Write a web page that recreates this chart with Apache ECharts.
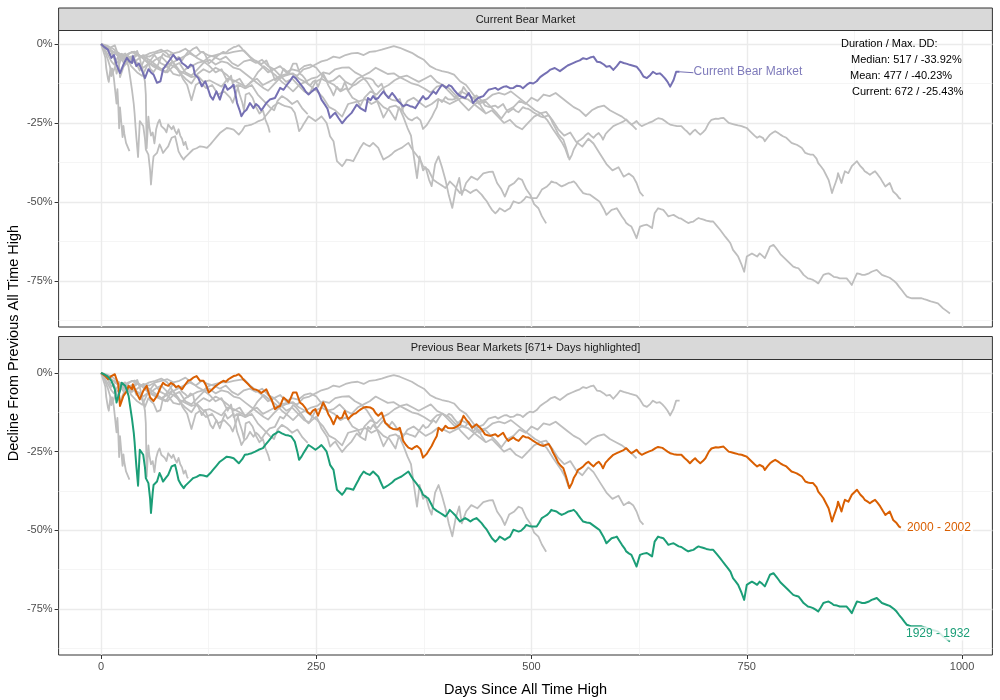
<!DOCTYPE html>
<html>
<head>
<meta charset="utf-8">
<script src="https://cdn.jsdelivr.net/npm/echarts@6/dist/echarts.min.js"></script>
<style>html,body{margin:0;padding:0;background:#fff}#c{width:1000px;height:700px}</style>
</head>
<body>
<div id="c"></div>
<script>
// ---- data: [days since all-time high, decline %] ----
const bearCurrent = [[0,0],[4,-1],[8,-1.8],[12,-4.4],[15,-3.5],[18,-6.5],[22,-9.2],[26,-6.5],[30,-4.4],[33,-5.5],[36,-6],[37,-3.9],[41,-7],[44,-6.2],[47,-8],[51,-10.8],[55,-8],[58,-9],[61,-9.7],[65,-12.3],[69,-11.8],[72,-8],[76,-6.5],[80,-5],[84,-3.4],[88,-5],[91,-4.5],[94,-6],[98,-6.8],[101,-7.6],[104,-6.5],[107,-7],[109,-9.7],[113,-10.8],[117,-13.4],[121,-11.8],[124,-14],[127,-16.5],[130,-17.6],[134,-15],[138,-17.6],[141,-15],[144,-12.9],[147,-14.5],[150,-13.9],[154,-12.9],[158,-18.7],[161,-21],[163,-22.9],[166,-21.5],[169,-20.8],[173,-18.7],[177,-20.3],[180,-19],[183,-19.7],[186,-21],[188,-20.3],[192,-18.7],[196,-17.6],[202,-17.1],[205,-15.5],[208,-13.9],[212,-14.5],[216,-12.9],[220,-11.5],[223,-10.2],[226,-10.8],[229,-11.8],[235,-13.9],[238,-15.2],[241,-16],[245,-15],[250,-13.9],[253,-15.5],[256,-17.6],[260,-19.2],[263,-20.5],[266,-23.4],[269,-22.5],[272,-21.8],[276,-23.5],[280,-25.1],[282,-25.4],[285,-23.4],[288,-22.6],[291,-21.8],[294,-20.5],[297,-19.2],[301,-20.3],[304,-20.8],[307,-21.3],[310,-17.1],[313,-17.8],[316,-16.5],[319,-17.5],[322,-17.1],[325,-16],[328,-15],[331,-16.2],[334,-17.1],[338,-15.5],[341,-16.5],[345,-18.1],[348,-18.8],[351,-19.7],[355,-19.2],[359,-19.7],[362,-19.9],[365,-20.3],[370,-18.1],[374,-16.5],[377,-17.5],[380,-17.1],[383,-16],[386,-15],[389,-15.8],[392,-14.5],[396,-12.9],[401,-13.9],[404,-13],[407,-13.4],[410,-14.5],[413,-15.5],[417,-16.5],[420,-16.8],[423,-17.1],[427,-15.5],[430,-17],[432,-18.7],[435,-17.8],[438,-17.1],[441,-16.8],[444,-16.5],[447,-15.5],[450,-14.5],[454,-14.2],[458,-13.9],[461,-14.5],[465,-13.9],[468,-13.5],[471,-13.4],[475,-14],[479,-13.9],[483,-13.2],[487,-13.4],[490,-14],[492,-13.4],[495,-12.8],[498,-12.3],[502,-12.5],[506,-11.8],[510,-10.5],[514,-9.7],[518,-9],[522,-8.1],[527,-7.6],[533,-8.6],[537,-7.8],[542,-6.8],[547,-6.2],[552,-5.6],[556,-5.2],[560,-4.5],[564,-4.8],[568,-4.3],[572,-4],[576,-5.6],[580,-5.8],[584,-6.5],[587,-7.2],[591,-7],[595,-8.2],[599,-7],[603,-5.6],[607,-6],[611,-6.3],[614,-6.6],[618,-6.9],[622,-7.2],[626,-8.5],[630,-10.3],[634,-10.8],[638,-9.8],[641,-8.8],[645,-9.5],[649,-9.3],[652,-10],[655,-10.9],[658,-12],[661,-13.5],[665,-11.4],[668,-8.8],[672,-8.8]];

const bear2000 = [[0,0],[5,-1],[8,-2],[12,-1],[16,-0.4],[20,-3.6],[22,-10.5],[26,-7.3],[30,-5.7],[32,-4.1],[36,-5.2],[37,-3.6],[41,-6.2],[45,-8.4],[49,-5.7],[53,-4.1],[57,-7.8],[61,-8.9],[65,-7.3],[69,-4.7],[72,-3.1],[75,-3.8],[78,-4.1],[81,-3.2],[84,-3.6],[87,-4.5],[90,-4.1],[94,-5.2],[98,-3.6],[101,-2.5],[104,-2.2],[107,-1.5],[111,-1],[115,-2.5],[119,-2.5],[122,-4],[125,-6.2],[128,-5.5],[130,-5.2],[133,-4.2],[136,-3.6],[139,-3],[142,-2.5],[145,-2.8],[148,-2],[151,-1.5],[154,-1],[157,-0.8],[160,-0.4],[163,-1.2],[165,-2],[168,-2.8],[171,-3.6],[174,-4.5],[177,-5.2],[180,-5.3],[183,-5.7],[186,-6.4],[188,-6.2],[192,-5.2],[195,-7],[198,-8.4],[202,-11.5],[205,-10.8],[208,-10.5],[212,-7.8],[215,-8.5],[218,-9.4],[221,-7.5],[223,-6.2],[227,-6.2],[231,-9.4],[234,-10],[237,-11],[240,-12.5],[243,-13.1],[246,-12],[249,-11.5],[252,-13.6],[255,-11.5],[258,-9.4],[261,-11],[264,-13.1],[267,-14.5],[270,-16.3],[274,-13.6],[277,-14.5],[280,-14.2],[283,-12.1],[287,-14.7],[290,-13.8],[293,-13.1],[296,-12.8],[299,-12.1],[302,-11.5],[305,-11],[308,-10.8],[310,-10.5],[313,-11],[316,-11.5],[319,-12.8],[322,-13.6],[326,-12.6],[330,-15.8],[333,-16.5],[336,-17.4],[339,-17.8],[341,-18.4],[344,-18],[347,-17.4],[349,-19.5],[351,-21.6],[354,-22.8],[357,-23.7],[361,-24.2],[364,-23.6],[367,-23.2],[371,-24.2],[374,-26.9],[378,-25.8],[381,-24.5],[384,-23.2],[387,-21.5],[390,-20],[392,-17.4],[396,-18.4],[400,-16.8],[403,-17.5],[405,-17.9],[408,-17.6],[411,-17.4],[414,-16.9],[417,-16.3],[421,-13.6],[424,-14.8],[427,-15.8],[431,-17.4],[433,-16.8],[436,-16.3],[439,-17.1],[442,-17.9],[446,-19.5],[449,-19.8],[452,-20],[455,-19.7],[458,-19.5],[461,-20.2],[463,-20.5],[467,-19],[470,-20.5],[473,-21.6],[476,-21],[479,-20.5],[482,-21.2],[485,-21.6],[490,-20],[493,-20.4],[496,-20.5],[499,-21],[502,-21.6],[505,-22.1],[508,-22.6],[511,-23],[514,-23.2],[517,-22.8],[520,-22.6],[523,-24],[525,-25.3],[528,-26.8],[531,-28.5],[534,-29.5],[537,-30.3],[540,-32.8],[544,-36.6],[547,-35],[549,-33.4],[552,-32],[554,-30.8],[557,-30.3],[560,-29.7],[563,-28.8],[566,-28.2],[569,-29],[572,-29.7],[575,-28.8],[578,-28.2],[581,-29.2],[583,-30.3],[586,-28.5],[589,-27.6],[592,-26.8],[595,-26],[599,-25.5],[603,-25],[607,-24.5],[610,-23.9],[613,-24.8],[616,-25.5],[619,-25],[622,-24.4],[625,-25.4],[628,-26],[632,-25.5],[636,-25],[640,-24.6],[644,-23.9],[647,-23.5],[649,-23.1],[652,-23.8],[655,-24.4],[658,-25],[661,-25.5],[665,-25.8],[669,-26],[674,-26],[678,-27.1],[681,-27.8],[684,-28.7],[687,-27.8],[690,-27.1],[693,-28],[696,-28.7],[699,-28],[702,-27.1],[706,-25],[709,-24],[711,-23.4],[714,-23.6],[717,-23.7],[720,-23.5],[723,-23.4],[726,-24.2],[729,-25],[732,-25.2],[736,-25.5],[740,-25.8],[744,-26],[747,-26.3],[750,-26.6],[753,-27.4],[756,-28.2],[759,-29],[762,-29.7],[765,-29.2],[767,-28.7],[769,-29.8],[771,-30.8],[774,-29.7],[777,-28.7],[780,-28.1],[783,-27.6],[786,-28.1],[789,-28.7],[792,-29.2],[796,-29.7],[799,-30.5],[802,-31.3],[805,-31.6],[808,-31.9],[811,-32.4],[814,-32.9],[816,-33.7],[818,-34.5],[821,-34.8],[824,-35],[827,-35],[829,-35],[831,-36.3],[833,-37.7],[836,-38.7],[839,-39.8],[842,-41.4],[845,-43],[847,-45],[849,-47.2],[851,-45.5],[853,-44],[855,-42.4],[856,-40.9],[858,-42.4],[860,-44],[862,-42],[864,-40.3],[866,-40.6],[868,-40.9],[870,-39.8],[872,-38.7],[875,-37.9],[878,-37.1],[880,-37.9],[882,-38.7],[885,-39.5],[887,-40.3],[890,-40.8],[893,-41.4],[896,-40.8],[899,-40.3],[902,-41.3],[905,-42.4],[908,-43.8],[911,-45.1],[913,-44.5],[916,-44],[918,-45.3],[920,-46.7],[922,-47.2],[924,-47.7],[927,-48.8],[929,-49.1]];

const bear1929 = [[0,0],[4,-0.5],[7,-1],[10,-1.8],[12,-2.5],[14,-3.8],[16,-5.2],[18,-9.4],[20,-7.5],[22,-5.7],[24,-3.1],[26,-3.6],[28,-4.1],[30,-5.5],[32,-7.3],[34,-11],[36,-14.7],[38,-19],[39,-22.1],[40,-26],[41,-29.5],[43,-35.8],[45,-24.4],[47,-25],[49,-26],[51,-30],[52,-33.4],[55,-35],[57,-40],[58,-44.5],[60,-38],[61,-35.6],[63,-35],[65,-34.5],[68,-31.8],[70,-33],[72,-34.5],[75,-33.4],[78,-32.4],[80,-31],[82,-29.7],[86,-29.2],[88,-31.5],[90,-34],[93,-35.5],[96,-36.6],[98,-35.8],[101,-35],[104,-34.2],[107,-33.4],[111,-33],[115,-32.4],[119,-32.6],[123,-32.9],[127,-31.8],[130,-30.8],[134,-29.5],[138,-28.2],[142,-27.4],[146,-26.6],[150,-26.8],[154,-27.1],[157,-27.9],[160,-28.7],[164,-27.4],[167,-26],[171,-25.8],[175,-25.5],[179,-25],[183,-24.4],[188,-23.9],[191,-22.8],[194,-21.8],[197,-20.8],[200,-19.7],[203,-19.2],[206,-18.6],[210,-19.2],[214,-19.7],[218,-19.9],[221,-20.2],[223,-21],[225,-21.8],[228,-25],[230,-27.6],[233,-26.5],[235,-25.5],[238,-24.2],[241,-22.9],[245,-23.6],[249,-24.4],[253,-23.6],[256,-22.9],[259,-23.9],[262,-25],[264,-27],[266,-29.2],[268,-30],[270,-30.8],[272,-34],[274,-37.1],[277,-37.9],[280,-38.7],[283,-37.6],[285,-36.6],[289,-36.8],[293,-37.1],[296,-35.5],[299,-34],[301,-32.9],[305,-31.3],[308,-31.9],[312,-32.4],[316,-31.3],[319,-32.1],[322,-32.9],[325,-34.8],[328,-36.6],[331,-36.1],[334,-35.6],[338,-34.8],[341,-34],[345,-33.4],[349,-32.9],[353,-32.1],[357,-31.3],[360,-32.7],[363,-34],[366,-35],[369,-36.1],[372,-37.4],[374,-38.7],[377,-39.3],[380,-39.8],[383,-41.4],[386,-43],[390,-43.8],[394,-44.5],[397,-45],[400,-45.6],[403,-44.5],[405,-43.5],[408,-44.3],[411,-45.1],[414,-46.2],[417,-47.2],[420,-46.6],[423,-46.1],[426,-46.6],[429,-47.2],[432,-46.6],[436,-46.1],[439,-46.9],[442,-47.7],[445,-48.8],[448,-49.8],[451,-51.2],[454,-52.5],[456,-53],[458,-53.6],[461,-52.8],[463,-52],[466,-52.5],[469,-53],[472,-52.5],[475,-52],[477,-50.9],[479,-49.8],[482,-50.1],[485,-50.4],[488,-50.1],[490,-49.8],[492,-49],[494,-48.3],[497,-48.6],[500,-48.8],[503,-48.8],[506,-48.8],[509,-47.5],[512,-46.1],[515,-45.6],[518,-45.1],[521,-44.3],[523,-43.5],[526,-43.8],[529,-44],[532,-44.6],[535,-45.1],[539,-44.6],[543,-44],[546,-43.8],[549,-43.5],[552,-44.3],[554,-45.1],[557,-46.2],[560,-47.2],[564,-47.5],[568,-47.7],[572,-48.5],[576,-49.3],[579,-49.9],[581,-50.4],[584,-52.3],[587,-54.1],[590,-53.3],[593,-52.5],[596,-52.3],[599,-52],[602,-53.3],[605,-54.6],[608,-55.7],[610,-56.7],[613,-57.3],[616,-57.8],[619,-59.6],[622,-61.5],[624,-59.6],[626,-57.8],[630,-57.4],[634,-57.2],[637,-57.7],[640,-58.3],[643,-53.6],[645,-52.8],[647,-52],[650,-52.3],[653,-52.5],[656,-53.5],[659,-54.6],[662,-54.3],[665,-54.1],[668,-54.6],[671,-55.1],[674,-55.3],[676,-55.6],[679,-56.2],[682,-56.7],[685,-56.4],[688,-56.2],[691,-55.6],[694,-55.1],[697,-55.4],[700,-55.6],[703,-55.9],[705,-56.2],[708,-56.2],[711,-56.2],[715,-57.5],[719,-58.8],[722,-59.9],[725,-61],[728,-62],[731,-63.1],[734,-65.2],[737,-66.2],[740,-67.3],[742,-68.6],[744,-69.9],[747,-72.1],[750,-67.3],[753,-66.8],[756,-66.3],[759,-66.8],[762,-67.3],[765,-66.3],[768,-67],[771,-67.8],[774,-66],[777,-64.1],[779,-63.8],[781,-63.6],[784,-64.6],[787,-65.7],[789,-66.5],[792,-67.3],[795,-68.1],[798,-68.9],[801,-69.7],[804,-70.5],[807,-70.8],[810,-71],[813,-72],[816,-73.1],[818,-73.6],[821,-74.2],[824,-74.4],[827,-74.7],[830,-75.2],[833,-75.8],[836,-74.5],[839,-73.1],[842,-72.8],[845,-72.6],[848,-73.1],[851,-73.7],[855,-73.9],[858,-74.2],[862,-74.2],[866,-74.2],[869,-75.2],[872,-76.3],[875,-74.4],[878,-72.6],[881,-72.8],[884,-73.1],[887,-73.1],[889,-73.1],[892,-72.6],[895,-72.1],[898,-71.8],[901,-71.5],[904,-72.3],[907,-73.1],[910,-73.4],[913,-73.7],[916,-74],[918,-74.2],[921,-75],[924,-75.8],[927,-76.9],[930,-77.9],[933,-79],[936,-80],[939,-80.3],[942,-80.5],[945,-80.5],[947,-80.5],[950,-80.5],[953,-80.5],[956,-80.8],[959,-81],[962,-81.3],[965,-81.6],[968,-81.8],[972,-82.1],[975,-82.9],[978,-83.7],[982,-84.5],[986,-85.3]];

const bear2007 = [[0,0],[7,-1.5],[10,-3.5],[14,-2.5],[21,-4],[28,-3],[35,-7],[42,-9],[48,-10.1],[55,-6],[62,-3.5],[69,-6],[76,-7],[83,-5.5],[90,-8],[95,-11],[100,-13],[105,-17.8],[110,-13],[115,-12],[122,-14],[129,-13],[136,-16],[143,-15],[150,-17],[153,-18.6],[160,-13],[167,-14],[174,-12],[181,-11],[188,-13],[195,-12],[202,-11],[209,-10],[216,-9.5],[223,-9.3],[230,-11],[237,-12],[244,-13.5],[251,-15],[258,-17],[265,-20],[272,-21],[280,-23],[287,-19],[294,-18.5],[301,-18],[307,-17.5],[314,-19],[321,-18],[328,-20],[335,-21],[342,-24],[346,-20],[351,-23],[356,-26.6],[360,-29],[363,-35],[367,-42.5],[370,-35.6],[374,-40],[377,-39],[381,-43],[384,-45],[388,-38],[392,-35.6],[396,-39],[400,-43],[404,-48],[408,-51.9],[412,-46],[416,-42.4],[419,-47.8],[424,-44],[430,-42],[437,-43],[444,-41],[451,-40.5],[455,-40.4],[460,-44],[465,-46],[469,-48.3],[474,-45],[480,-44],[485,-42.5],[489,-43],[494,-46],[499,-48],[503,-50.7],[508,-52],[512,-54.5],[517,-56.8]];

const bear1973 = [[0,0],[7,-1],[14,-2.5],[21,-3.5],[28,-5],[35,-4],[42,-6],[49,-7.5],[56,-6],[63,-7],[70,-8],[77,-9],[84,-7],[91,-8.5],[98,-9.5],[105,-10.5],[112,-10],[119,-12],[126,-11.5],[133,-12.5],[140,-13.5],[147,-11],[154,-11.5],[161,-12.5],[168,-13.5],[175,-12],[182,-9],[189,-7],[196,-8.5],[203,-10],[210,-12],[217,-13.5],[223,-15],[230,-13],[237,-12],[244,-11],[251,-10.5],[258,-9],[265,-9.5],[272,-8],[280,-7.5],[288,-7.4],[295,-9],[302,-10],[309,-12],[316,-15],[322,-19],[328,-23.3],[335,-20],[342,-19.5],[349,-21],[356,-18],[363,-17],[370,-18.5],[377,-20],[384,-19],[391,-17.5],[398,-18],[405,-19],[412,-18],[419,-17],[426,-17.5],[433,-19],[440,-20.5],[447,-22],[454,-21],[461,-23],[468,-25],[475,-24],[482,-26],[489,-27],[496,-25],[503,-23],[510,-22],[517,-21.5],[524,-24],[531,-27],[538,-29],[545,-28],[552,-31],[559,-32.5],[566,-30],[572,-31.5],[580,-35],[587,-38],[594,-40],[601,-39],[607,-42],[613,-41],[618,-42],[622,-44],[626,-47],[630,-48.2]];

const bear1968 = [[0,0],[7,-0.5],[14,-1.5],[21,-3],[28,-4.5],[35,-4],[42,-3.5],[49,-4],[56,-5],[63,-6.5],[70,-8],[77,-7],[84,-9.5],[91,-10],[98,-8],[105,-7],[112,-6],[119,-5.5],[126,-4],[133,-3.5],[140,-3],[147,-3],[154,-2.5],[161,-2.2],[166,-2],[173,-4],[180,-5.5],[187,-7],[194,-9],[201,-8],[208,-10],[215,-12],[222,-11],[229,-13],[236,-15],[242,-15.7],[249,-12],[256,-11],[263,-12],[270,-11.5],[277,-10],[284,-12],[291,-13],[298,-11],[305,-10],[312,-9],[319,-7.5],[326,-8.5],[333,-9.5],[340,-9.3],[347,-10.5],[354,-11.5],[361,-12.5],[368,-13],[375,-14],[383,-15.4],[390,-13.5],[397,-13],[404,-14],[411,-16],[418,-18.5],[427,-21],[434,-19],[441,-18],[448,-17.5],[455,-16],[462,-15.5],[469,-16],[476,-15],[483,-16.5],[490,-18],[497,-19.5],[504,-21],[511,-22],[518,-24],[525,-27],[530,-29],[535,-31],[539,-33],[543,-36.1]];

const bear1980 = [[0,0],[4,-2],[8,-5],[13,-9.6],[18,-6],[25,-4],[32,-3],[39,-2.4],[46,-4],[53,-5.5],[60,-7],[67,-8],[75,-9],[82,-6],[89,-5],[96,-4],[103,-3],[110,-4],[117,-2.5],[124,-3.5],[131,-4],[138,-5],[145,-4],[152,-6],[159,-7],[166,-5.5],[173,-5],[180,-6],[187,-5],[194,-7],[201,-8],[208,-7],[215,-9],[222,-8],[229,-8.5],[236,-7],[243,-6.5],[250,-7.5],[257,-10],[264,-12],[271,-13],[278,-15],[285,-14],[292,-17],[298,-18],[301,-19.7],[306,-17],[313,-15],[320,-16],[327,-14],[334,-13],[341,-11.5],[348,-10.5],[355,-10],[362,-11],[369,-12],[376,-11],[383,-10],[390,-12],[397,-13],[404,-15],[411,-17],[418,-15],[425,-16],[432,-17],[439,-19],[446,-18],[453,-20],[460,-22],[465,-23.6],[472,-21],[479,-20],[486,-18],[493,-19],[500,-17],[507,-18],[514,-16],[521,-16.5],[528,-15.5],[535,-17],[542,-18.5],[549,-20],[556,-21],[563,-22.8],[570,-21],[577,-20],[584,-19.5],[591,-21],[598,-22],[605,-23],[612,-24.5],[618,-26],[622,-27.1]];

const bear1956 = [[0,0],[7,-1],[14,-2.5],[21,-3.5],[28,-5.5],[35,-4.5],[42,-3],[49,-4.5],[56,-6.5],[63,-5],[70,-4],[77,-6],[84,-7],[91,-6],[98,-9],[105,-10],[112,-8],[119,-6],[126,-5],[133,-6.5],[140,-5.5],[147,-6],[154,-7.5],[161,-8],[168,-9.5],[175,-11],[182,-12.5],[189,-14],[194,-14.8],[200,-13],[207,-11],[214,-10],[221,-9.5],[228,-10],[235,-8],[242,-7.5],[249,-6.5],[256,-5.5],[263,-5],[270,-4],[277,-4.4],[284,-3.5],[291,-3],[298,-2.8],[305,-3.5],[312,-2.5],[319,-2.3],[326,-1.8],[333,-1.2],[340,-0.7],[347,-1.2],[354,-2],[361,-2.8],[368,-4],[375,-5],[382,-7],[389,-8],[396,-8.6],[403,-9],[410,-9.7],[417,-11.8],[424,-13],[431,-15.5],[438,-18],[442,-20],[446,-21.6]];

const bear1966 = [[0,0],[7,-1],[14,-2.5],[21,-4],[28,-6.5],[35,-5],[42,-3.5],[49,-4],[56,-3],[63,-2.5],[70,-1.8],[77,-3],[84,-6],[91,-9],[98,-11],[105,-12.5],[112,-9.5],[119,-8],[126,-9],[133,-7.5],[140,-8.5],[147,-10],[154,-12],[161,-11],[168,-14],[175,-13],[182,-16],[189,-18],[196,-20],[201,-21],[205,-18],[210,-16.5],[216,-17.5],[222,-19],[228,-18],[234,-20.5],[240,-22.2]];

const bear1961 = [[0,0],[7,-1.5],[14,-2.5],[21,-3],[28,-4],[35,-6],[42,-5],[49,-3.5],[56,-4],[63,-3],[70,-2.5],[77,-2],[84,-3],[91,-2.5],[98,-1.5],[105,-3],[112,-4.5],[119,-5.5],[126,-7],[133,-9],[140,-8],[147,-12],[151,-10],[154,-14],[158,-13],[161,-16],[164,-18.5],[166,-21],[168,-16],[172,-15.5],[176,-17],[180,-20],[184,-22],[188,-21],[191,-24],[194,-26],[196,-28]];

const bear1987 = [[0,0],[3,-1],[6,-2.5],[9,-4],[12,-5.5],[15,-6.5],[18,-5],[21,-3.5],[24,-4],[27,-5],[30,-4],[33,-3],[36,-2.5],[39,-3],[42,-2.2],[45,-4.5],[47,-7],[49,-9],[51,-12],[52,-16],[53,-33],[54,-28],[55,-23],[56,-26],[58,-29],[60,-28],[62,-31.5],[64,-27],[66,-25],[68,-24],[70,-26],[72,-25.5],[74,-27],[76,-28],[78,-25.5],[80,-26],[82,-27],[84,-26],[86,-27.5],[88,-28.5],[90,-27],[92,-29],[94,-30],[96,-32],[98,-31],[100,-33],[101,-33.5]];

const bear2020 = [[0,0],[2,-0.4],[4,-3.4],[5,-4.4],[6,-7.6],[7,-8],[8,-11],[9,-12],[11,-7.5],[12,-10.2],[13,-7.8],[14,-9.2],[15,-11.1],[18,-18.9],[19,-14.3],[20,-19.2],[21,-26.7],[22,-20.1],[25,-29.5],[26,-25.9],[27,-28.3],[28,-28.5],[29,-31.3],[33,-33.9]];

// tick values
const xTicks = [0, 250, 500, 750, 1000];
const xMinorTicks = [125, 375, 625, 875];
const yTicks = [0, -25, -50, -75];
const yMinorTicks = [-12.5, -37.5, -62.5, -87.5];

const panelTitles = ['Current Bear Market', 'Previous Bear Markets [671+ Days highlighted]'];
const statsLines = ['Duration / Max. DD:', 'Median: 517 / -33.92%', 'Mean: 477 / -40.23%', 'Current: 672 / -25.43%'];
const labelCurrent = 'Current Bear Market';
const label2000 = '2000 - 2002';
const label1929 = '1929 - 1932';

// ---- chart ----
const X_MIN = -49.3, X_MAX = 1035.3, Y_MIN = -89.6, Y_MAX = 4.27;
const GRAY = '#BEBEBE', PURPLE = '#7570B3', ORANGE = '#D95F02', GREEN = '#1B9E77';
const FONT = '"Liberation Sans", Arial, Helvetica, sans-serif';
const LEFT = 58.6, WIDTH = 933.8;
const grids = [{top: 30.5, height: 296.5}, {top: 359.5, height: 295.5}];

const chart = echarts.init(document.getElementById('c'), null, {renderer: 'canvas', width: 1000, height: 700});

function gridLines(idx) {
  const major = {color: '#EBEBEB', width: 1.4, type: 'solid'};
  const minor = {color: '#F2F2F2', width: 0.8, type: 'solid'};
  return {
    type: 'line', xAxisIndex: idx, yAxisIndex: idx, data: [], z: 0, zlevel: 0, silent: true,
    markLine: {
      z: 0, silent: true, symbol: ['none', 'none'], label: {show: false}, animation: false,
      emphasis: {disabled: true},
      data: [
        ...xMinorTicks.map(v => ({xAxis: v, lineStyle: minor})),
        ...yMinorTicks.map(v => ({yAxis: v, lineStyle: minor})),
        ...xTicks.map(v => ({xAxis: v, lineStyle: major})),
        ...yTicks.map(v => ({yAxis: v, lineStyle: major}))
      ]
    }
  };
}

function lineSeries(data, idx, color, width, extra) {
  return Object.assign({
    type: 'line', xAxisIndex: idx, yAxisIndex: idx, data: data,
    showSymbol: false, symbol: 'none', smooth: false, z: 3,
    lineStyle: {color: color, width: width, join: 'round'}, itemStyle: {color: color},
    emphasis: {disabled: true}, silent: true
  }, extra || {});
}

const topGray = [bear1929, bear1956, bear1961, bear1966, bear1968, bear1973, bear1980, bear1987, bear2000, bear2007, bear2020];
const bottomGray = [bear1956, bear1961, bear1966, bear1968, bear1973, bear1980, bear1987, bear2007, bear2020, bearCurrent];

const lastCur = bearCurrent[bearCurrent.length - 1];

const series = [gridLines(0), gridLines(1)];
topGray.forEach(d => series.push(lineSeries(d, 0, GRAY, 1.8)));
series.push(lineSeries(bearCurrent, 0, PURPLE, 2, {
  z: 4,
  endLabel: {show: true, formatter: labelCurrent, color: '#7F7BBB', fontSize: 12, fontFamily: FONT, distance: 14},
  markLine: {z: 4, silent: true, symbol: ['none', 'none'], label: {show: false}, animation: false,
    lineStyle: {color: PURPLE, width: 1, type: 'solid'},
    data: [[{coord: [lastCur[0], lastCur[1]]}, {coord: [lastCur[0] + 16, lastCur[1] - 0.3]}]]}
}));
bottomGray.forEach(d => series.push(lineSeries(d, 1, GRAY, 1.8)));
series.push(lineSeries(bear2000, 1, ORANGE, 2, {
  z: 4,
  endLabel: {show: true, formatter: label2000, color: ORANGE, fontSize: 12, fontFamily: FONT, distance: 4,
    backgroundColor: '#ffffff', padding: [1, 2]}
}));
series.push(lineSeries(bear1929, 1, GREEN, 2, {
  z: 4,
  endLabel: {show: true, formatter: label1929, color: GREEN, fontSize: 12, fontFamily: FONT, distance: 4,
    offset: [-50, -8], backgroundColor: 'rgba(255,255,255,0.8)', padding: [1, 2]}
}));

const yAxisCfg = idx => ({
  type: 'value', gridIndex: idx, min: Y_MIN, max: Y_MAX, position: 'left',
  axisLine: {show: false, onZero: false}, splitLine: {show: false},
  axisTick: {show: true, inside: false, customValues: yTicks, length: 4, lineStyle: {color: '#333333', width: 1}},
  axisLabel: {show: true, customValues: yTicks, formatter: v => Math.round(v) + '%', color: '#4D4D4D',
    fontSize: 11, fontFamily: FONT, margin: 6}
});

const option = {
  animation: false,
  backgroundColor: '#ffffff',
  grid: grids.map(g => ({left: LEFT, width: WIDTH, top: g.top, height: g.height, show: true,
    backgroundColor: '#ffffff', borderColor: '#333333', borderWidth: 1, containLabel: false})),
  xAxis: [
    {type: 'value', gridIndex: 0, min: X_MIN, max: X_MAX, position: 'bottom', axisLine: {show: false, onZero: false}, axisTick: {show: false},
     axisLabel: {show: false}, splitLine: {show: false}},
    {type: 'value', gridIndex: 1, min: X_MIN, max: X_MAX, position: 'bottom', axisLine: {show: false, onZero: false}, splitLine: {show: false},
     axisTick: {show: true, inside: false, customValues: xTicks, length: 4, lineStyle: {color: '#333333', width: 1}},
     axisLabel: {show: true, customValues: xTicks, formatter: v => String(Math.round(v)), color: '#4D4D4D', fontSize: 11, fontFamily: FONT, margin: 6},
     name: 'Days Since All Time High', nameLocation: 'middle', nameGap: 27,
     nameTextStyle: {color: '#000000', fontSize: 14.5, fontFamily: FONT}}
  ],
  yAxis: [yAxisCfg(0), yAxisCfg(1)],
  series: series,
  graphic: [
    {type: 'rect', shape: {x: LEFT, y: 8, width: WIDTH, height: 22.5}, style: {fill: '#D9D9D9', stroke: '#333333', lineWidth: 1}, z: 10},
    {type: 'text', x: LEFT + WIDTH / 2, y: 19.5, style: {text: panelTitles[0], fill: '#1A1A1A', font: '11px ' + FONT, textAlign: 'center', textVerticalAlign: 'middle'}, z: 11},
    {type: 'rect', shape: {x: LEFT, y: 336.5, width: WIDTH, height: 23}, style: {fill: '#D9D9D9', stroke: '#333333', lineWidth: 1}, z: 10},
    {type: 'text', x: LEFT + WIDTH / 2, y: 348, style: {text: panelTitles[1], fill: '#1A1A1A', font: '11px ' + FONT, textAlign: 'center', textVerticalAlign: 'middle'}, z: 11},
    {type: 'text', x: 14, y: 343, rotation: Math.PI / 2, style: {text: 'Decline From Previous All Time High', fill: '#000000', font: '14.5px ' + FONT, textAlign: 'center', textVerticalAlign: 'middle'}, z: 11},
    {type: 'text', x: 841, y: 43.5, style: {text: statsLines[0], fill: '#000000', font: '11px ' + FONT, textAlign: 'left', textVerticalAlign: 'middle'}, z: 11},
    {type: 'text', x: 851, y: 59.5, style: {text: statsLines[1], fill: '#000000', font: '11px ' + FONT, textAlign: 'left', textVerticalAlign: 'middle'}, z: 11},
    {type: 'text', x: 850, y: 75.5, style: {text: statsLines[2], fill: '#000000', font: '11px ' + FONT, textAlign: 'left', textVerticalAlign: 'middle'}, z: 11},
    {type: 'text', x: 852, y: 91.5, style: {text: statsLines[3], fill: '#000000', font: '11px ' + FONT, textAlign: 'left', textVerticalAlign: 'middle'}, z: 11}
  ]
};
chart.setOption(option);
</script>
</body>
</html>
